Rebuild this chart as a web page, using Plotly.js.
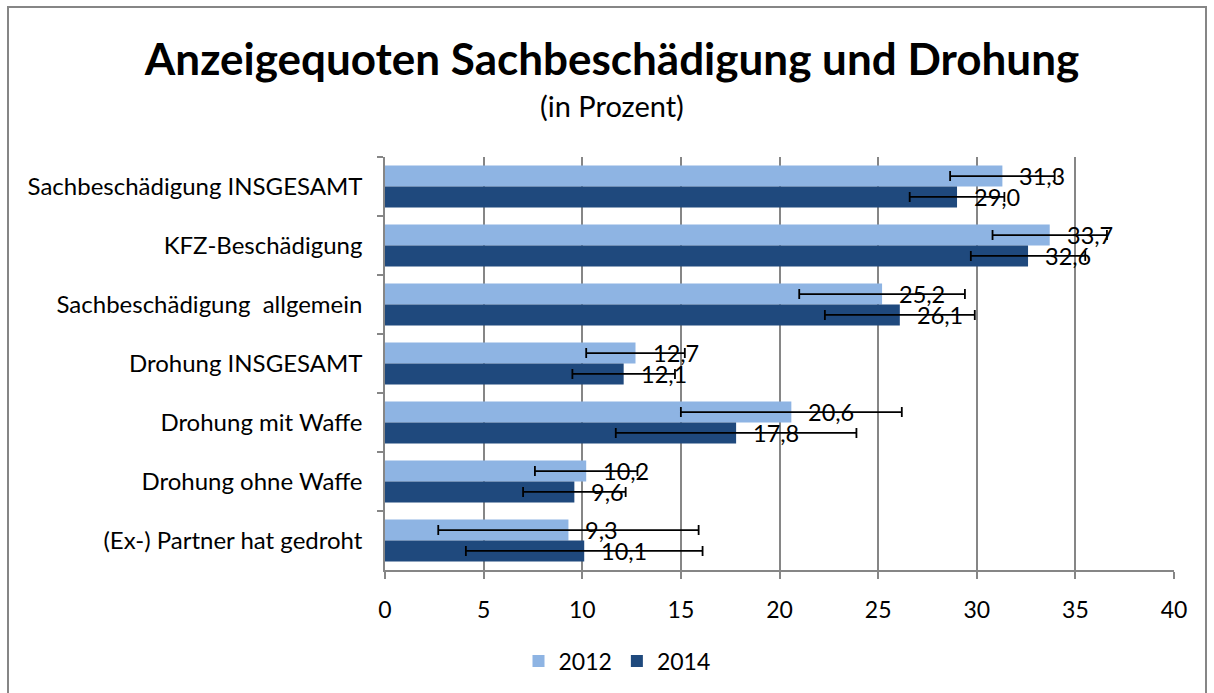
<!DOCTYPE html>
<html>
<head>
<meta charset="utf-8">
<script src="https://cdn.plot.ly/plotly-3.0.1.min.js"></script>
<style>
  html, body { margin: 0; padding: 0; background: #fff; }
  #chart { position: absolute; left: 0; top: 0; width: 1214px; height: 693px; }
  #frame { position: absolute; left: 7px; top: 6px; width: 1200px; height: 720px;
           border: 2px solid #868686; box-sizing: border-box; pointer-events: none; }
</style>
</head>
<body>
<div id="chart"></div>
<div id="frame"></div>
<script>
const categories = [
  "Sachbeschädigung INSGESAMT",
  "KFZ-Beschädigung",
  "Sachbeschädigung  allgemein",
  "Drohung INSGESAMT",
  "Drohung mit Waffe",
  "Drohung ohne Waffe",
  "(Ex-) Partner hat gedroht"
];
const values2012 = [31.3, 33.7, 25.2, 12.7, 20.6, 10.2, 9.3];
const values2014 = [29.0, 32.6, 26.1, 12.1, 17.8, 9.6, 10.1];
const err2012 = [2.65, 2.9, 4.2, 2.5, 5.6, 2.6, 6.6];
const err2014 = [2.4, 2.9, 3.8, 2.6, 6.1, 2.6, 6.0];
const seriesNames = ["2012", "2014"];
const xTicks = [0, 5, 10, 15, 20, 25, 30, 35, 40];

const FONT = "Lato, 'Open Sans', sans-serif";
const colors = ["#8EB4E3", "#1F497D"];

function fmt(v) { return v.toFixed(1).replace(".", ","); }

const traces = [values2012, values2014].map((vals, i) => ({
  type: "bar",
  orientation: "h",
  name: seriesNames[i],
  y: categories,
  x: vals,
  marker: { color: colors[i], line: { width: 0 } },
  error_x: { type: "data", array: [err2012, err2014][i], visible: true,
             color: "#000", thickness: 1.8, width: 5 },
  hoverinfo: "x+y"
}));

const annotations = [];
[values2012, values2014].forEach((vals, i) => {
  vals.forEach((v, j) => {
    annotations.push({
      x: v, y: categories[j], xref: "x", yref: "y",
      text: fmt(v), showarrow: false, xanchor: "left", yanchor: "middle",
      xshift: 15, yshift: i === 0 ? 10.5 : -10.5,
      font: { family: FONT, size: 23.5, color: "#000" }
    });
  });
});
annotations.push({
  text: "(in Prozent)", xref: "paper", yref: "paper",
  x: (612 - 385) / 789, y: (570 - 105) / 413, xanchor: "center", yanchor: "middle",
  showarrow: false, font: { family: FONT, size: 29, color: "#000" }
});

const layout = {
  width: 1214, height: 693,
  margin: { l: 385, r: 40, t: 157, b: 123 },
  paper_bgcolor: "rgba(0,0,0,0)",
  plot_bgcolor: "#fff",
  font: { family: FONT, color: "#000" },
  title: {
    text: "<b>Anzeigequoten Sachbeschädigung und Drohung</b>",
    font: { family: FONT, size: 44, color: "#000" },
    xref: "container", yref: "container",
    x: 612 / 1214, y: 1 - 60 / 693, xanchor: "center", yanchor: "middle"
  },
  barmode: "group",
  bargap: 0.29,
  bargroupgap: 0,
  xaxis: {
    range: [0, 40], tickvals: xTicks, ticktext: xTicks.map(String),
    showgrid: true, gridcolor: "#868686", gridwidth: 1.5,
    zeroline: false, showline: true, linecolor: "#868686", linewidth: 1.5,
    ticks: "outside", ticklen: 7, tickcolor: "#868686", tickwidth: 1.5,
    ticklabelstandoff: 12,
    tickfont: { family: FONT, size: 23, color: "#000" }
  },
  yaxis: {
    autorange: "reversed", type: "category",
    showline: true, linecolor: "#868686", linewidth: 1.5,
    ticks: "outside", ticklen: 6, tickcolor: "#868686", tickwidth: 1.5,
    tickson: "boundaries", showgrid: false,
    ticklabelstandoff: 16,
    tickfont: { family: FONT, size: 24, color: "#000" }
  },
  showlegend: true,
  legend: {
    orientation: "h", xref: "container", yref: "container",
    x: 617 / 1214, y: 1 - 661 / 693, xanchor: "center", yanchor: "middle",
    font: { family: FONT, size: 23, color: "#000" },
    traceorder: "normal", itemwidth: 30
  },
  annotations: annotations
};

Plotly.newPlot("chart", traces, layout, { displayModeBar: false, responsive: false });
</script>
</body>
</html>
